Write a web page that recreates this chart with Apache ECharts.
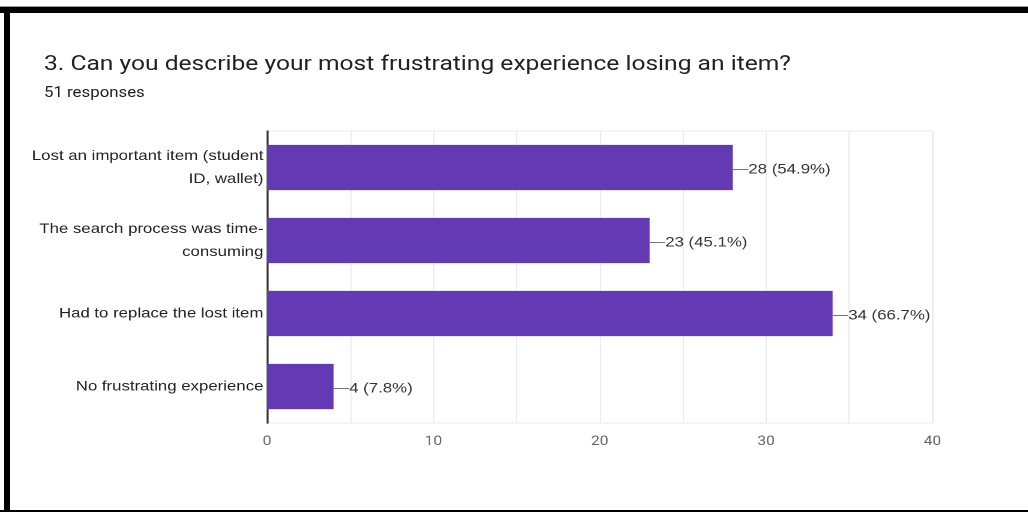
<!DOCTYPE html>
<html>
<head>
<meta charset="utf-8">
<script src="https://cdn.jsdelivr.net/npm/echarts@6/dist/echarts.min.js"></script>
<style>
  html, body { margin: 0; padding: 0; background: #fff; }
  #wrap { position: relative; width: 1028px; height: 512px; overflow: hidden; background: #fff; }
  /* the card is laid out narrower and widened by 1.2 horizontally */
  #card { position: absolute; left: 0; top: 0; width: 856.67px; height: 512px;
          transform: scaleX(1.2); transform-origin: 0 0; }
  #chart { position: absolute; left: 0; top: 0; width: 856.67px; height: 512px; }
  .frame { position: absolute; background: #000; }
  .title { position: absolute; left: 36.7px; font-family: Roboto, "Noto Sans", sans-serif; color: #202124; white-space: nowrap; }
</style>
</head>
<body>
<div id="wrap">
  <div id="card">
    <div id="chart"></div>
    <div class="title" style="top:51px;font-size:20.5px;">3. Can you describe your most frustrating experience losing an item?</div>
    <div class="title" style="top:84px;font-size:14px;">51 responses</div>
  </div>
  <div class="frame" style="left:0;top:6px;width:1028px;height:1px;background:#9a9a9a"></div>
  <div class="frame" style="left:0;top:7px;width:1028px;height:6px"></div>
  <div class="frame" style="left:4px;top:7px;width:6px;height:505px"></div>
  <div class="frame" style="left:0;top:510px;width:1028px;height:2px"></div>
</div>
<script>
// Survey answers and counts
const categories = [
  'Lost an important item (student\nID, wallet)',
  'The search process was time-\nconsuming',
  'Had to replace the lost item',
  'No frustrating experience'
];
const counts = [28, 23, 34, 4];
const totalResponses = 51;
const axisTicks = [0, 10, 20, 30, 40];

const chart = echarts.init(document.getElementById('chart'), null, { renderer: 'canvas', devicePixelRatio: 2 });

chart.setOption({
  backgroundColor: 'transparent',
  animation: false,
  grid: {
    left: 222.5, right: 80, top: 131, bottom: 89,
    show: true, borderColor: '#ebebeb', borderWidth: 1, backgroundColor: 'transparent'
  },
  xAxis: {
    type: 'value',
    min: axisTicks[0],
    max: axisTicks[axisTicks.length - 1],
    interval: axisTicks[1] - axisTicks[0],
    axisLine: { show: false },
    axisTick: { show: false },
    axisLabel: {
      color: '#666', fontSize: 13, margin: 12,
      fontFamily: 'Roboto, "Noto Sans", sans-serif'
    },
    splitLine: { show: true, lineStyle: { color: '#ebebeb', width: 1 } },
    minorTick: { show: false, splitNumber: 2 },
    minorSplitLine: { show: true, lineStyle: { color: '#ebebeb', width: 1 } }
  },
  yAxis: {
    type: 'category',
    inverse: true,
    data: categories,
    axisLine: { show: true, onZero: false, lineStyle: { color: '#333', width: 1.6 } },
    axisTick: { show: false },
    axisLabel: {
      color: '#222', fontSize: 14, lineHeight: 23, margin: 3, align: 'right',
      padding: [5, 0, 0, 0],
      fontFamily: '"Liberation Sans", Arial, sans-serif'
    },
    splitLine: { show: false }
  },
  series: [{
    type: 'bar',
    data: counts,
    barCategoryGap: '38%',
    itemStyle: { color: '#6439b4' },
    label: {
      show: true,
      position: 'right',
      distance: 0,
      offset: [0, 2],
      formatter: function (p) {
        const pct = (p.value / totalResponses * 100).toFixed(1);
        return '{ln|}{v|' + p.value + ' (' + pct + '%)}';
      },
      rich: {
        ln: { width: 13, height: 1, backgroundColor: '#777' },
        v: {
          color: '#333', fontSize: 14,
          fontFamily: '"Liberation Sans", Arial, sans-serif'
        }
      }
    }
  }]
});
</script>
</body>
</html>
